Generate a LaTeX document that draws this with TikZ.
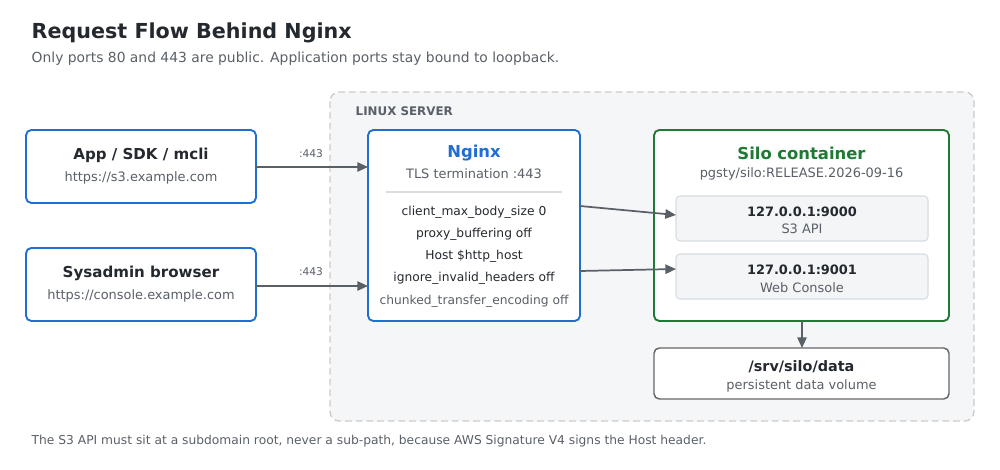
\documentclass[tikz,border=0pt]{standalone}
\usepackage{fontspec}
\setmainfont{DejaVu Sans}
\usetikzlibrary{arrows.meta}
\definecolor{blu}{HTML}{1F6FD0}
\definecolor{grn}{HTML}{1E7A34}
\definecolor{txt}{HTML}{24292F}
\definecolor{sub}{HTML}{5A6068}
\definecolor{arr}{HTML}{5A6068}
\definecolor{bg}{HTML}{F5F6F8}
\definecolor{ib}{HTML}{F3F5F7}
\definecolor{ibd}{HTML}{D8DDE2}
\tikzset{
 box/.style={draw=#1,line width=1.4pt,rounded corners=4pt,fill=white},
 inner/.style={draw=ibd,line width=0.8pt,rounded corners=3pt,fill=ib},
 conn/.style={draw=arr,line width=1.3pt,-{Triangle[length=8pt,width=7pt]}},
 tb/.style={font=\fontsize{11.3}{13}\selectfont\bfseries,text=txt},
 ts/.style={font=\fontsize{9.7}{11}\selectfont,text=sub},
 tl/.style={font=\fontsize{9.2}{11}\selectfont,text=txt},
 lab/.style={font=\fontsize{8}{9}\selectfont,text=sub}
}
\begin{document}
\begin{tikzpicture}[x=0.75pt,y=-0.75pt]
\useasboundingbox (0,0) rectangle (1000,470);
\node[anchor=west,font=\fontsize{15.5}{18}\selectfont\bfseries,text=txt] (title) at (27,33) {Request Flow Behind Nginx};
\node[anchor=west,font=\fontsize{10.4}{12}\selectfont,text=sub] (subt) at (27,59) {Only ports 80 and 443 are public. Application ports stay bound to loopback.};
\draw[draw=black!20,line width=1pt,dash pattern=on 5pt off 3pt,rounded corners=7pt,fill=bg] (330,92) rectangle (974,421);
\node[anchor=west,font=\fontsize{8.9}{10}\selectfont\bfseries,text=sub] (ls) at (351,111) {LINUX SERVER};
% client boxes
\draw[box=blu] (26,130) rectangle (256,203);
\node[tb] at (141,155) {App / SDK / mcli};
\node[ts] at (141,178) {https://s3.example.com};
\draw[box=blu] (26,248) rectangle (256,321);
\node[tb] at (141,273) {Sysadmin browser};
\node[ts] at (141,296) {https://console.example.com};
% nginx
\draw[box=blu] (368,130) rectangle (580,321);
\node[font=\fontsize{12.3}{14}\selectfont\bfseries,text=blu] at (474,153) {Nginx};
\node[ts] at (474,174) {TLS termination :443};
\draw[ibd,line width=0.8pt] (386,192) -- (562,192);
\node[tl] at (474,212) {client\_max\_body\_size 0};
\node[tl] at (474,234) {proxy\_buffering off};
\node[tl] at (474,256) {Host \$http\_host};
\node[tl] at (474,278) {ignore\_invalid\_headers off};
\node[tl,text=sub] at (474,301) {chunked\_transfer\_encoding off};
% silo
\draw[box=grn] (654,130) rectangle (949,321);
\node[font=\fontsize{12.3}{14}\selectfont\bfseries,text=grn] at (801.5,153) {Silo container};
\node[ts] at (801.5,174) {pgsty/silo:RELEASE.2026-09-16};
\draw[inner] (676,196) rectangle (928,241);
\node[font=\fontsize{9.7}{11}\selectfont\bfseries,text=txt] at (802,212) {127.0.0.1:9000};
\node[ts] at (802,229) {S3 API};
\draw[inner] (676,254) rectangle (928,299);
\node[font=\fontsize{9.7}{11}\selectfont\bfseries,text=txt] at (802,270) {127.0.0.1:9001};
\node[ts] at (802,288) {Web Console};
% data
\draw[draw=black!60,line width=1.1pt,rounded corners=4pt,fill=white] (654,348) rectangle (949,399);
\node[font=\fontsize{10.8}{12}\selectfont\bfseries,text=txt] at (801.5,367) {/srv/silo/data};
\node[ts] at (801.5,386) {persistent data volume};
% connectors
\coordinate (a1) at (256,167); \coordinate (a2) at (368,167);
\coordinate (b1) at (256,286); \coordinate (b2) at (368,286);
\coordinate (c1) at (580,206); \coordinate (c2) at (676,215);
\coordinate (d1) at (580,271); \coordinate (d2) at (676,269);
\coordinate (e1) at (802,321); \coordinate (e2) at (802,348);
\draw[conn] (a1) -- (a2);
\draw[conn] (b1) -- (b2);
\draw[conn] (c1) -- (c2);
\draw[conn] (d1) -- (d2);
\draw[conn] (e1) -- (e2);
\node[lab] at (311,154) {:443};
\node[lab] at (311,272) {:443};
\node[anchor=west,font=\fontsize{9.2}{10}\selectfont,text=sub] (foot) at (27,441) {The S3 API must sit at a subdomain root, never a sub-path, because AWS Signature V4 signs the Host header.};
\end{tikzpicture}
\end{document}
